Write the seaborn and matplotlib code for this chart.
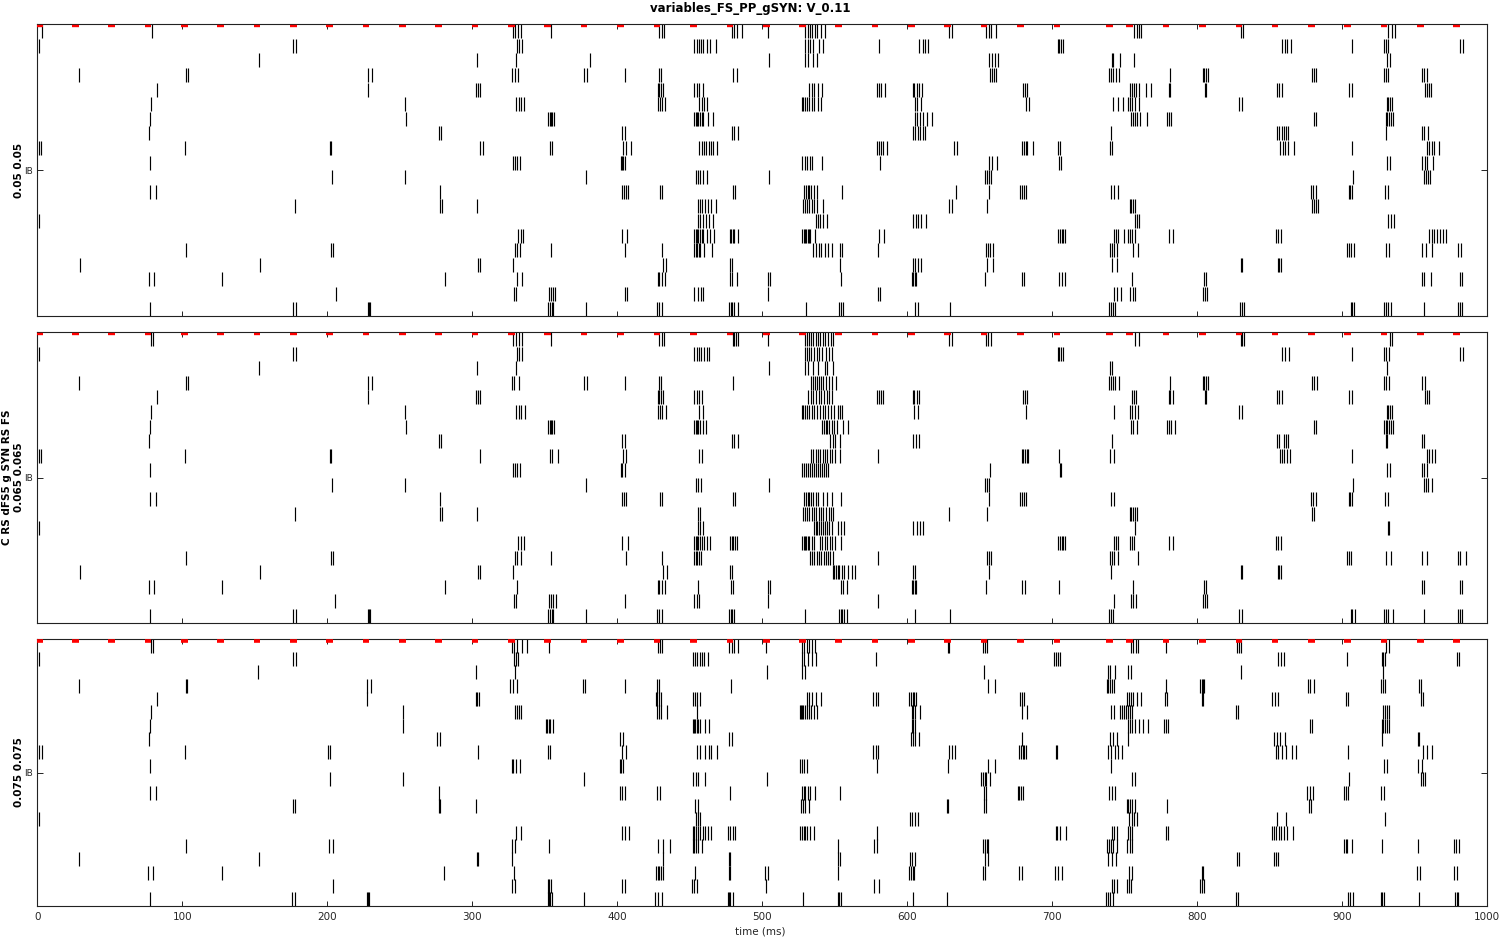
import numpy as np
import pandas as pd
import matplotlib
matplotlib.use("Agg")
import matplotlib.pyplot as plt
import seaborn as sns

# ---------------------------------------------------------------- data
TITLE = "variables_FS_PP_gSYN: V_0.11"
PANEL_LABELS = [["0.05 0.05"], ["C RS dFS5 g SYN RS FS", "0.065 0.065"], ["0.075 0.075"]]
Y_TICK_LABEL = "IB"
X_TICKS = [0, 100, 200, 300, 400, 500, 600, 700, 800, 900, 1000]
X_LABEL = "time (ms)"

# centres of the red stimulus marks (ms)
STIM_TIMES = [1.5, 26.5, 51.4, 76.4, 101.4, 126.5, 151.5, 176.6, 201.7, 226.7, 251.7, 276.8,
              301.9, 326.9, 352.0, 377.0, 402.3, 427.4, 452.4, 477.7, 502.8, 527.6, 552.7,
              577.7, 602.8, 627.9, 652.9, 677.9, 703.2, 739.3, 753.4, 778.4, 803.4, 828.8,
              853.6, 878.6, 903.7, 928.7, 953.8, 978.9]

# spike times (ms), one list per cell (row 0 = top) -- gSYN 0.05
SPIKES_005 = [
    [3.0, 79.3, 327.8, 329.5, 331.3, 333.4, 354.0, 428.8, 430.6, 432.2, 478.9, 480.5, 482.3, 486.2, 504.2, 529.7, 531.3, 532.9, 534.5, 536.1, 538.0, 540.5, 543.2, 629.0, 630.8, 654.3, 656.1, 658.0, 661.4, 756.6, 758.2, 759.8, 761.4, 829.9, 831.8, 931.8, 934.1, 936.4],
    [1.4, 176.6, 178.4, 330.8, 332.4, 334.0, 453.1, 454.7, 456.3, 457.7, 459.3, 461.6, 463.9, 467.8, 529.7, 531.3, 532.9, 535.2, 539.3, 542.1, 580.7, 608.3, 610.6, 612.4, 614.5, 703.7, 704.9, 706.0, 707.4, 858.7, 860.5, 862.1, 864.9, 906.5, 929.0, 930.2, 931.3, 981.4, 983.2],
    [153.1, 303.5, 330.3, 381.2, 504.9, 529.7, 531.3, 534.7, 537.5, 656.6, 658.4, 660.5, 662.8, 741.0, 742.1, 747.0, 756.1, 930.8, 932.7],
    [28.5, 102.8, 104.0, 228.3, 230.6, 327.7, 329.2, 331.6, 377.0, 379.1, 405.1, 428.5, 429.9, 479.8, 482.8, 657.0, 658.4, 659.8, 661.4, 739.4, 740.7, 742.1, 744.2, 745.8, 781.4, 803.7, 804.9, 806.3, 807.6, 879.3, 880.7, 882.1, 929.0, 930.4, 931.8, 955.2, 956.6, 958.4],
    [82.8, 228.3, 302.8, 304.0, 305.3, 427.8, 428.8, 430.1, 431.5, 453.1, 454.7, 456.3, 459.1, 532.4, 534.0, 535.7, 538.2, 541.2, 578.9, 580.3, 581.9, 584.4, 603.7, 604.6, 606.4, 608.3, 609.9, 680.0, 681.2, 682.6, 753.8, 755.2, 756.6, 758.0, 759.6, 764.4, 768.3, 780.3, 781.4, 805.1, 806.2, 854.8, 856.4, 858.7, 904.6, 906.9, 956.8, 958.2, 959.6, 961.2],
    [78.6, 253.4, 330.4, 332.2, 333.8, 335.7, 427.8, 429.4, 431.1, 433.1, 456.6, 458.4, 460.0, 461.9, 527.6, 528.3, 529.2, 530.6, 532.2, 534.0, 535.9, 538.2, 540.3, 605.3, 606.9, 609.2, 681.7, 684.0, 742.1, 745.1, 749.0, 752.5, 753.8, 755.2, 757.1, 759.8, 829.0, 831.1, 930.6, 931.8, 932.9, 934.1],
    [77.9, 254.1, 352.4, 353.4, 354.3, 355.2, 356.1, 453.1, 454.0, 455.0, 455.9, 457.0, 458.2, 459.3, 462.3, 466.2, 605.3, 606.9, 608.8, 611.0, 613.8, 617.3, 754.1, 755.7, 757.1, 758.7, 760.3, 765.1, 779.4, 780.5, 781.9, 880.3, 882.1, 929.9, 930.9, 932.2, 933.6, 935.2],
    [77.3, 277.3, 278.6, 403.5, 405.1, 478.9, 480.5, 483.0, 604.2, 605.5, 607.1, 608.8, 610.6, 612.4, 740.7, 855.2, 856.6, 858.2, 859.8, 861.4, 862.8, 930.4, 954.8, 956.1, 958.9],
    [1.4, 2.8, 102.1, 201.9, 202.8, 305.1, 307.6, 353.4, 355.2, 404.2, 406.2, 409.2, 456.6, 458.2, 459.8, 461.4, 463.0, 464.6, 466.2, 469.0, 578.9, 580.3, 581.6, 583.5, 585.8, 632.4, 634.0, 679.4, 680.5, 681.7, 682.8, 686.9, 704.2, 705.3, 740.0, 741.4, 857.3, 858.9, 860.5, 862.3, 866.9, 907.0, 958.2, 959.8, 961.6, 963.5, 966.7],
    [77.9, 328.3, 329.4, 330.9, 332.9, 402.6, 403.2, 404.2, 405.1, 527.6, 529.2, 530.8, 532.7, 534.3, 540.9, 581.4, 656.6, 658.6, 662.2, 704.9, 706.0, 930.8, 933.1, 954.8, 957.0, 958.7, 962.8],
    [203.0, 253.4, 378.2, 454.0, 455.7, 457.3, 458.9, 461.6, 504.9, 653.4, 654.7, 656.1, 658.0, 907.6, 956.6, 958.0, 959.4, 960.7],
    [77.9, 82.1, 278.0, 403.0, 404.4, 406.0, 407.6, 429.2, 431.1, 479.6, 481.4, 529.0, 530.1, 531.3, 532.4, 533.8, 535.7, 538.0, 555.2, 633.8, 656.1, 678.0, 679.1, 680.5, 682.1, 740.7, 742.8, 745.3, 878.7, 880.0, 881.6, 904.4, 905.6, 907.0, 929.7, 931.8],
    [178.0, 277.7, 279.1, 303.5, 455.4, 457.0, 458.6, 460.3, 462.3, 464.6, 467.8, 528.3, 529.7, 531.1, 532.4, 534.0, 535.9, 538.0, 542.1, 629.0, 630.8, 655.2, 753.4, 754.5, 755.9, 757.3, 879.1, 880.5, 881.6, 883.0],
    [1.4, 455.9, 457.0, 458.9, 461.2, 463.5, 465.8, 536.8, 538.4, 540.0, 541.6, 544.9, 604.2, 606.0, 607.6, 609.2, 612.9, 756.8, 758.2, 759.6, 931.3, 933.6, 935.9],
    [331.5, 333.6, 335.2, 403.5, 406.5, 453.1, 454.0, 455.0, 455.9, 457.0, 458.2, 459.3, 461.6, 463.9, 466.7, 478.0, 478.6, 479.6, 480.7, 483.0, 527.6, 528.5, 529.4, 530.4, 531.3, 532.2, 533.1, 536.3, 580.7, 584.2, 704.2, 705.3, 706.5, 707.6, 708.5, 742.8, 744.2, 745.6, 749.5, 752.5, 753.8, 755.2, 757.1, 780.7, 783.5, 854.1, 855.7, 857.7, 960.0, 961.6, 963.5, 965.3, 967.2, 969.2, 971.8],
    [102.8, 202.3, 204.2, 329.3, 330.8, 333.1, 354.0, 405.5, 430.6, 453.1, 454.0, 455.0, 456.1, 457.3, 460.0, 465.5, 535.2, 537.0, 538.9, 540.7, 543.0, 545.5, 548.3, 553.4, 555.2, 580.0, 654.3, 655.7, 657.0, 658.9, 740.0, 741.4, 742.8, 744.6, 755.9, 758.9, 903.5, 904.6, 906.0, 908.1, 930.4, 932.5, 955.2, 957.7, 962.1, 980.0, 981.9],
    [29.2, 153.8, 304.2, 305.1, 328.3, 431.3, 433.6, 478.0, 479.1, 553.6, 604.2, 605.5, 607.4, 609.2, 655.2, 659.3, 741.0, 744.9, 829.9, 831.1, 855.4, 856.6, 857.7],
    [76.8, 80.3, 127.6, 281.4, 330.6, 334.0, 427.8, 428.8, 430.6, 432.9, 478.0, 479.1, 482.3, 503.7, 505.3, 554.3, 603.2, 604.2, 605.1, 606.0, 653.8, 679.4, 680.5, 704.9, 706.5, 709.0, 755.2, 804.9, 806.0, 954.8, 956.6, 961.2, 981.2, 982.8],
    [206.2, 328.6, 330.1, 353.1, 354.5, 355.9, 357.3, 405.1, 406.7, 453.1, 455.4, 457.5, 459.3, 504.2, 579.6, 581.2, 742.8, 744.6, 747.4, 753.6, 755.4, 757.3, 804.2, 805.6, 807.0],
    [77.9, 176.6, 178.2, 227.8, 228.5, 229.5, 352.4, 353.6, 354.9, 355.9, 378.6, 427.4, 428.8, 430.8, 477.3, 478.2, 479.3, 480.7, 483.5, 530.4, 553.1, 554.3, 555.7, 605.5, 607.4, 629.7, 739.4, 740.5, 741.6, 743.3, 829.5, 830.6, 832.0, 905.8, 907.0, 908.3, 929.0, 930.4, 931.8, 933.4, 956.6, 980.0, 981.4, 982.8],
]

# gSYN 0.065
SPIKES_0065 = [
    [78.2, 80.0, 328.3, 330.1, 332.2, 334.0, 354.0, 428.8, 430.6, 432.2, 479.6, 480.5, 481.6, 483.5, 504.2, 529.7, 531.1, 532.4, 533.8, 535.2, 536.8, 538.4, 540.0, 541.6, 543.5, 545.5, 547.1, 548.5, 629.0, 630.8, 654.3, 655.7, 658.0, 757.1, 759.8, 829.9, 831.1, 832.2, 932.7, 934.1],
    [1.4, 176.6, 178.4, 330.8, 332.4, 334.3, 453.1, 454.7, 456.3, 457.9, 459.6, 461.6, 463.5, 529.2, 530.6, 532.0, 533.8, 535.7, 537.5, 539.3, 541.2, 543.9, 546.2, 548.1, 703.7, 704.9, 706.0, 707.4, 858.7, 860.5, 863.0, 906.5, 929.0, 930.4, 932.2, 981.4, 983.2],
    [153.1, 303.5, 330.3, 504.9, 529.7, 531.3, 535.2, 538.4, 543.0, 544.9, 548.5, 740.0, 741.4, 930.8],
    [28.5, 102.8, 104.0, 228.3, 230.6, 327.7, 329.1, 332.3, 377.0, 379.1, 405.5, 428.5, 429.9, 480.0, 533.8, 535.2, 536.6, 538.0, 539.3, 540.7, 542.1, 543.9, 545.8, 548.1, 550.8, 739.4, 740.7, 742.1, 743.5, 746.2, 781.4, 803.7, 804.9, 806.3, 807.6, 879.3, 880.7, 882.6, 929.0, 930.4, 932.2, 955.2, 957.0],
    [82.8, 228.3, 302.8, 304.0, 305.3, 427.8, 428.8, 430.1, 431.5, 453.1, 454.7, 456.3, 458.4, 531.5, 533.4, 535.2, 537.0, 538.9, 540.7, 542.6, 544.4, 546.2, 548.1, 578.9, 580.3, 581.9, 583.5, 603.7, 604.6, 606.4, 608.3, 680.0, 681.2, 682.6, 754.8, 756.1, 757.5, 780.3, 781.4, 783.5, 805.1, 806.2, 854.8, 856.4, 858.7, 904.6, 906.9, 956.8, 958.2, 960.0],
    [78.6, 253.4, 330.4, 332.0, 333.8, 336.1, 427.8, 429.4, 431.1, 433.6, 456.6, 458.9, 527.6, 528.3, 529.2, 530.6, 532.2, 534.0, 535.9, 537.7, 539.8, 541.6, 543.5, 545.5, 547.4, 549.4, 552.0, 553.8, 555.0, 604.9, 607.1, 682.1, 742.3, 753.8, 755.2, 757.1, 758.9, 829.0, 831.1, 930.6, 931.8, 933.1, 934.1],
    [77.9, 254.1, 352.4, 353.4, 354.3, 355.2, 356.1, 453.1, 454.0, 455.0, 455.9, 457.0, 458.9, 461.4, 541.4, 542.6, 543.7, 544.9, 546.2, 548.1, 549.4, 551.7, 555.9, 558.9, 754.1, 755.7, 758.7, 779.4, 780.5, 781.9, 784.6, 880.3, 882.1, 929.0, 929.9, 930.9, 932.2, 933.6, 935.2],
    [77.3, 277.3, 278.6, 403.5, 405.1, 478.9, 480.5, 483.0, 546.9, 548.5, 550.1, 553.8, 604.2, 606.0, 608.3, 741.4, 855.2, 856.6, 859.6, 861.4, 862.8, 929.9, 931.1, 954.8, 956.1],
    [1.4, 2.8, 102.1, 201.9, 202.8, 305.1, 353.4, 355.2, 358.9, 404.2, 406.2, 456.6, 458.2, 533.6, 535.2, 536.8, 538.4, 540.0, 541.6, 543.2, 544.8, 546.7, 548.1, 550.1, 553.6, 579.6, 678.9, 680.0, 681.2, 682.3, 683.5, 704.9, 740.0, 742.8, 857.3, 858.7, 860.0, 861.9, 863.7, 906.5, 958.2, 959.8, 961.6, 963.9],
    [77.9, 328.3, 329.4, 330.9, 332.9, 402.6, 403.5, 405.3, 527.6, 528.8, 530.1, 531.5, 532.9, 534.3, 535.7, 537.0, 538.4, 539.8, 541.2, 542.6, 543.9, 545.5, 657.3, 705.3, 706.2, 930.8, 933.1, 954.8, 956.6, 958.7],
    [203.0, 253.4, 378.2, 454.0, 455.7, 458.0, 504.9, 653.4, 654.7, 656.1, 907.6, 956.6, 958.0, 959.4, 961.6],
    [77.9, 82.1, 278.0, 403.0, 404.4, 406.0, 429.2, 431.1, 479.6, 481.4, 529.0, 530.1, 531.3, 532.4, 533.8, 535.2, 536.8, 538.4, 541.6, 544.4, 548.1, 554.0, 656.1, 678.0, 679.1, 680.5, 682.1, 740.7, 742.8, 878.7, 880.0, 881.6, 904.4, 905.6, 907.0, 929.7, 931.8],
    [178.0, 277.7, 279.1, 303.5, 455.4, 457.0, 528.3, 529.7, 531.1, 532.4, 534.0, 535.7, 537.3, 538.9, 540.5, 542.1, 543.9, 545.8, 547.4, 548.5, 629.0, 655.2, 753.4, 754.5, 755.9, 757.3, 758.7, 879.1, 880.5],
    [1.4, 455.4, 457.0, 458.9, 535.7, 536.8, 538.0, 539.3, 540.7, 542.1, 543.5, 544.9, 546.2, 548.1, 552.4, 554.0, 556.6, 604.2, 606.5, 608.8, 610.6, 756.8, 931.3, 932.5],
    [331.5, 333.6, 335.7, 403.5, 407.6, 453.1, 454.0, 455.0, 455.9, 457.0, 458.4, 459.8, 461.6, 463.9, 478.0, 478.9, 479.8, 480.9, 482.3, 527.6, 528.5, 529.4, 530.4, 531.3, 532.4, 534.0, 535.7, 539.8, 541.4, 543.0, 544.8, 546.7, 548.1, 550.4, 554.0, 704.2, 705.3, 706.5, 707.6, 708.5, 742.8, 744.2, 745.6, 753.8, 755.2, 756.6, 780.7, 783.0, 854.1, 855.7, 857.7],
    [102.8, 202.3, 204.2, 329.3, 330.6, 333.8, 354.0, 406.2, 430.6, 453.1, 454.0, 455.0, 456.1, 457.5, 532.9, 534.3, 535.9, 537.5, 539.1, 540.7, 542.3, 543.9, 545.5, 546.9, 548.5, 580.0, 654.7, 656.1, 658.0, 740.0, 741.4, 742.8, 745.6, 758.9, 903.5, 904.6, 906.0, 930.4, 933.7, 955.2, 958.7, 979.6, 981.4, 985.1],
    [29.2, 153.8, 304.2, 305.1, 328.3, 431.7, 434.0, 478.0, 479.1, 548.5, 549.7, 550.8, 552.0, 553.1, 554.7, 556.6, 559.3, 561.6, 564.2, 604.2, 605.5, 656.1, 740.7, 829.9, 831.1, 855.4, 856.6, 857.7],
    [76.8, 80.3, 127.6, 281.4, 330.6, 427.8, 428.8, 430.6, 433.1, 455.4, 478.4, 479.6, 503.7, 505.3, 554.0, 555.9, 558.6, 603.2, 604.2, 605.1, 606.0, 654.3, 679.4, 681.2, 704.9, 755.9, 804.9, 806.0, 954.8, 956.1, 981.2, 982.3],
    [205.5, 328.6, 330.1, 353.1, 354.5, 355.9, 357.7, 405.1, 453.1, 454.7, 456.6, 504.2, 579.6, 742.8, 754.1, 755.4, 758.0, 804.0, 805.3, 806.7],
    [77.9, 176.6, 178.2, 227.8, 228.5, 229.5, 352.4, 353.6, 354.9, 355.9, 378.6, 427.4, 428.8, 430.8, 477.3, 478.2, 479.3, 480.5, 529.7, 553.1, 554.0, 555.2, 556.6, 558.4, 605.5, 629.7, 739.4, 740.5, 742.1, 829.0, 830.6, 905.8, 907.0, 908.8, 929.0, 930.4, 931.8, 935.2, 956.6, 980.0, 981.4, 982.8],
]

# gSYN 0.075
SPIKES_0075 = [
    [78.2, 80.0, 327.5, 329.0, 330.6, 334.0, 338.0, 353.1, 427.8, 429.4, 431.1, 477.3, 478.9, 480.5, 483.0, 502.8, 527.6, 528.7, 530.6, 532.2, 534.0, 536.6, 627.8, 629.0, 652.0, 653.6, 655.2, 754.3, 755.9, 757.5, 759.4, 778.7, 827.2, 828.6, 830.2, 929.9, 932.5],
    [1.4, 176.6, 178.2, 328.8, 330.0, 331.6, 452.0, 453.6, 455.2, 456.8, 458.4, 460.0, 462.8, 527.6, 529.0, 531.5, 534.0, 537.0, 578.2, 701.4, 702.6, 703.7, 705.1, 855.9, 857.5, 859.8, 903.5, 927.2, 928.3, 929.5, 978.9, 980.5],
    [152.4, 302.8, 329.5, 503.5, 527.6, 529.4, 653.1, 738.2, 740.0, 743.3, 752.5, 754.3, 829.9, 928.3],
    [28.5, 102.3, 103.5, 227.6, 230.1, 326.2, 327.8, 330.8, 376.6, 378.0, 405.5, 427.1, 428.8, 478.6, 655.9, 660.7, 737.5, 738.7, 739.8, 741.0, 742.3, 778.7, 801.9, 803.0, 804.2, 804.9, 876.6, 877.7, 880.7, 926.5, 927.9, 929.5, 952.9, 954.3],
    [82.3, 227.6, 302.3, 303.5, 304.6, 426.5, 427.4, 428.8, 430.4, 452.0, 453.6, 455.2, 457.0, 530.6, 532.2, 534.0, 537.0, 540.3, 576.6, 578.2, 580.0, 601.4, 602.6, 603.7, 604.9, 606.0, 678.0, 679.4, 680.7, 751.3, 752.7, 754.3, 755.9, 758.2, 761.2, 777.7, 778.9, 803.0, 804.2, 851.8, 853.6, 855.4, 902.3, 904.2, 954.1, 955.4],
    [78.6, 252.4, 329.3, 330.8, 332.2, 333.8, 427.1, 428.5, 429.9, 434.0, 455.2, 526.0, 526.7, 527.4, 528.3, 529.2, 530.6, 532.2, 533.8, 535.7, 538.0, 603.0, 604.2, 605.5, 609.0, 678.9, 682.8, 740.5, 742.3, 746.7, 748.1, 749.5, 750.8, 752.2, 753.6, 755.0, 827.0, 828.3, 927.9, 929.5, 930.8, 932.0],
    [77.9, 252.4, 350.8, 351.7, 352.7, 353.6, 355.7, 452.0, 452.9, 453.8, 454.7, 455.7, 457.0, 460.3, 463.5, 603.0, 604.2, 605.3, 752.0, 753.4, 754.8, 757.1, 759.6, 762.6, 765.8, 776.8, 778.4, 780.0, 878.0, 879.3, 927.2, 928.1, 929.5, 931.1, 932.5],
    [77.3, 275.9, 277.7, 402.1, 403.9, 477.3, 479.1, 602.3, 603.7, 605.3, 608.3, 679.4, 740.0, 741.6, 744.6, 752.0, 853.1, 854.8, 857.3, 860.7, 927.2, 952.0, 953.2],
    [1.4, 3.2, 102.1, 200.7, 201.9, 304.2, 352.4, 353.8, 403.0, 406.2, 455.2, 456.8, 460.7, 463.0, 464.9, 469.0, 576.6, 578.2, 580.0, 629.0, 630.8, 632.9, 677.3, 678.4, 679.6, 680.7, 681.7, 702.3, 703.5, 738.2, 740.5, 743.3, 745.1, 747.9, 854.1, 855.9, 858.7, 861.0, 865.1, 867.9, 904.2, 955.4, 958.2, 962.1],
    [77.9, 327.1, 328.3, 329.9, 333.1, 401.9, 402.8, 403.9, 526.2, 527.4, 528.7, 530.6, 578.9, 628.3, 655.4, 660.5, 740.7, 929.0, 930.8, 952.0, 955.2],
    [201.9, 252.4, 377.0, 452.4, 454.0, 455.7, 460.7, 503.5, 651.1, 652.2, 653.4, 654.5, 657.3, 755.2, 757.0, 904.6, 954.1, 955.4, 957.0],
    [77.9, 82.1, 277.1, 401.6, 403.2, 405.1, 427.6, 429.4, 477.7, 527.6, 528.5, 529.7, 531.3, 533.1, 536.1, 553.6, 653.1, 654.3, 676.1, 677.3, 678.4, 679.6, 738.9, 741.0, 743.3, 875.9, 878.0, 880.0, 901.4, 902.6, 903.7, 926.7, 928.8],
    [176.6, 178.0, 276.8, 278.0, 302.6, 453.8, 455.9, 526.9, 528.3, 529.7, 532.0, 627.1, 628.3, 652.7, 654.3, 751.3, 752.5, 753.6, 754.8, 757.0, 779.4, 877.3, 878.4],
    [1.4, 454.3, 455.7, 457.0, 601.9, 603.5, 605.1, 607.5, 753.1, 754.8, 756.6, 758.7, 854.8, 861.0, 929.5],
    [330.3, 333.8, 403.0, 405.5, 408.1, 452.0, 453.1, 454.3, 455.7, 457.0, 458.9, 460.7, 462.8, 464.9, 476.6, 478.0, 479.6, 481.4, 526.2, 527.4, 528.5, 529.7, 531.1, 532.9, 535.7, 579.3, 702.3, 703.3, 705.6, 709.7, 741.0, 742.8, 744.6, 752.0, 753.4, 754.8, 778.2, 780.0, 851.8, 853.1, 854.5, 856.1, 857.7, 859.6, 861.9, 866.3],
    [102.3, 201.4, 204.2, 327.7, 329.5, 353.1, 428.1, 431.3, 436.6, 452.0, 453.1, 454.3, 455.7, 458.2, 552.4, 577.3, 578.9, 652.4, 653.6, 654.7, 655.9, 738.0, 739.1, 740.3, 742.1, 744.4, 751.8, 753.4, 755.2, 901.4, 902.3, 903.2, 907.0, 927.6, 952.5, 976.8, 978.7, 980.7],
    [28.5, 153.1, 303.0, 304.2, 327.7, 431.3, 476.8, 478.0, 552.2, 553.4, 601.9, 603.5, 605.3, 653.6, 655.9, 738.7, 741.0, 744.2, 827.2, 828.6, 852.7, 854.3, 855.9],
    [76.6, 79.6, 127.6, 280.7, 328.8, 426.7, 427.8, 429.0, 430.1, 431.5, 453.8, 476.8, 478.0, 502.1, 503.9, 552.4, 601.4, 602.6, 603.7, 604.6, 652.0, 653.4, 677.3, 678.9, 701.9, 704.2, 706.7, 752.7, 754.8, 803.0, 803.7, 951.8, 953.6, 977.3, 979.1],
    [204.0, 327.7, 329.5, 352.2, 353.1, 354.0, 403.2, 405.3, 451.7, 453.1, 455.2, 502.6, 577.0, 580.7, 741.0, 742.8, 744.9, 751.3, 752.9, 754.5, 801.6, 803.0, 804.4],
    [77.9, 175.9, 178.0, 227.2, 227.8, 229.0, 352.0, 352.9, 353.8, 354.7, 377.3, 426.2, 428.1, 430.8, 476.1, 476.8, 477.7, 480.0, 528.3, 552.0, 552.9, 554.5, 603.7, 627.4, 737.3, 738.4, 739.6, 741.9, 827.0, 828.3, 903.7, 905.6, 907.6, 926.5, 927.6, 929.0, 953.2, 977.7, 978.9, 980.0],
]

PANELS = [SPIKES_005, SPIKES_0065, SPIKES_0075]

# ---------------------------------------------------------------- style
W, H = 1500, 938
sns.set_theme(style="ticks")
plt.rcParams["font.family"] = ["DejaVu Sans"]
plt.rcParams["axes.linewidth"] = 0.8
TXT = "#262626"

fig = plt.figure(figsize=(W / 100, H / 100), dpi=100)

# axes boxes in pixels: (left, top, right, bottom)
BOXES = [(37.3, 24, 1487.3, 316), (37.3, 332, 1487.3, 623), (37.3, 639, 1487.3, 906)]
STIM_LW = [1.7, 1.7, 2.6]

for i, (spikes, box) in enumerate(zip(PANELS, BOXES)):
    l, t, r, b = box
    ax = fig.add_axes([l / W, 1 - b / H, (r - l) / W, (b - t) / H])
    times, rows = [], []
    for k, row in enumerate(spikes):
        times.extend(row)
        rows.extend([k] * len(row))
    df = pd.DataFrame({"time": times, "cell": rows})
    sns.scatterplot(data=df, x="time", y="cell", ax=ax, marker="|", s=92,
                    color="black", linewidth=0.85, legend=False, zorder=2)
    stim = np.asarray(STIM_TIMES)
    ax.hlines(np.full(stim.size, -0.35), stim - 2.3, stim + 2.3, color="#ff0000",
              lw=STIM_LW[i], zorder=4)
    ax.set_xlim(0, 1000)
    ax.set_ylim(19.5, -0.5)
    ax.set_xticks(X_TICKS)
    ax.set_yticks([9.5])
    ax.set_yticklabels([Y_TICK_LABEL])
    ax.set_xlabel("")
    ax.set_ylabel("")
    for sp in ax.spines.values():
        sp.set_visible(True)
        sp.set_color("#222222")
        sp.set_linewidth(0.8)
    ax.tick_params(axis="x", direction="in", top=True, bottom=True, length=3.6,
                   width=0.7, color="#222222", labelsize=7.5, labelcolor=TXT, pad=4,
                   labelbottom=(i == 2))
    ax.tick_params(axis="y", direction="in", left=True, right=True, length=4.3,
                   width=0.7, color="#222222", labelsize=6.5, labelcolor=TXT, pad=3)
    # panel labels (bold, rotated)
    yc = 1 - (t + b) / 2 / H
    labels = PANEL_LABELS[i]
    xs = [18.5] if len(labels) == 1 else [7.0, 19.5]
    for x, lab in zip(xs, labels):
        fig.text(x / W, yc, lab, rotation=90, ha="center", va="center",
                 fontsize=7.5, fontweight="bold", color="black")
    if i == 2:
        fig.text(760 / W, 1 - 931 / H, X_LABEL, ha="center", va="center",
                 fontsize=7.5, color=TXT)

fig.text(0.5, 1 - 8.5 / H, TITLE, ha="center", va="center", fontsize=8.5,
         fontweight="bold", color="black")

fig.savefig("out.png", dpi=100)
